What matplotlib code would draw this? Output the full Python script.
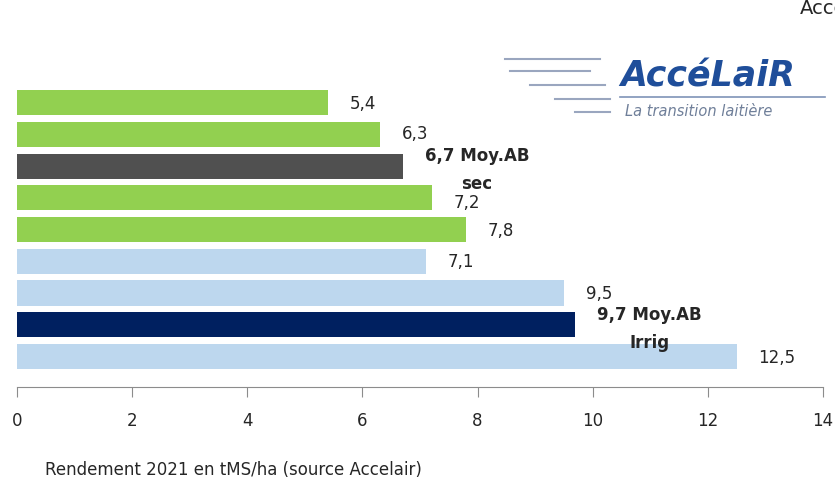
import numpy as np
import matplotlib.pyplot as plt

# Rendements 2021 (tMS/ha), de haut en bas
valeurs = [5.4, 6.3, 6.7, 7.2, 7.8, 7.1, 9.5, 9.7, 12.5]
etiquettes = ['5,4', '6,3', '6,7 Moy.AB\nsec', '7,2', '7,8', '7,1', '9,5', '9,7 Moy.AB\nIrrig', '12,5']
couleurs = ['#92D050', '#92D050', '#505050', '#92D050', '#92D050',
            '#BDD7EE', '#BDD7EE', '#002060', '#BDD7EE']
gras = [False, False, True, False, False, False, False, True, False]
xticks = [0, 2, 4, 6, 8, 10, 12, 14]

W, H = 835, 481
fig = plt.figure(figsize=(W / 100, H / 100), dpi=100)
ax = fig.add_axes([17 / W, 1 - 388 / H, (823 - 17) / W, (388 - 75) / H])

y = np.arange(len(valeurs))
ax.barh(y, valeurs, height=0.79, color=couleurs)
ax.set_xlim(0, 14)
ax.set_ylim(8.96, -0.9)

# étiquettes des valeurs
for yi, v, lab, b in zip(y, valeurs, etiquettes, gras):
    if b:
        ax.text(v + 0.38, yi + 0.1, lab, fontsize=12, fontweight='bold',
                color='#262626', ha='left', va='center', multialignment='center',
                linespacing=1.7)
    else:
        dy = {6.3: -0.05, 7.2: 0.12}.get(v, 0)
        ax.text(v + 0.38, yi + dy, lab, fontsize=12, color='#262626',
                ha='left', va='center')

for s in ['top', 'right', 'left']:
    ax.spines[s].set_visible(False)
ax.spines['bottom'].set_color('#8c8c8c')
ax.set_yticks([])
ax.set_xticks(xticks)
ax.set_xticklabels([str(t) for t in xticks])
ax.tick_params(axis='x', direction='out', length=7, color='#8c8c8c',
               labelsize=12, labelcolor='#262626', pad=10)

# logo AccéLaiR (approximation)
fig.text(620 / W, 1 - 77 / H, 'AccéLaiR', fontsize=25, fontweight='bold',
         style='italic', color='#1F4E9A', va='center', ha='left')
fig.text(625 / W, 1 - 111 / H, 'La transition laitière', fontsize=10.5,
         style='italic', color='#6f7f99', va='center', ha='left')
fig.add_artist(plt.Line2D([620 / W, 825 / W], [1 - 98 / H, 1 - 98 / H],
                          color='#7f93b8', lw=1.2))
for x0, x1, yy in [(505, 600, 60), (510, 590, 72), (530, 605, 86), (555, 610, 100), (575, 610, 113)]:
    fig.add_artist(plt.Line2D([x0 / W, x1 / W], [1 - yy / H, 1 - yy / H],
                              color='#9aa6bf', lw=1.5))

fig.text(800 / W, 1 - 9 / H, 'Accelair', fontsize=14, color='#262626',
         va='center', ha='left')
fig.text(45 / W, 1 - 470 / H, 'Rendement 2021 en tMS/ha (source Accelair)',
         fontsize=12, color='#262626', va='center', ha='left')

fig.savefig('out.png', dpi=100)
